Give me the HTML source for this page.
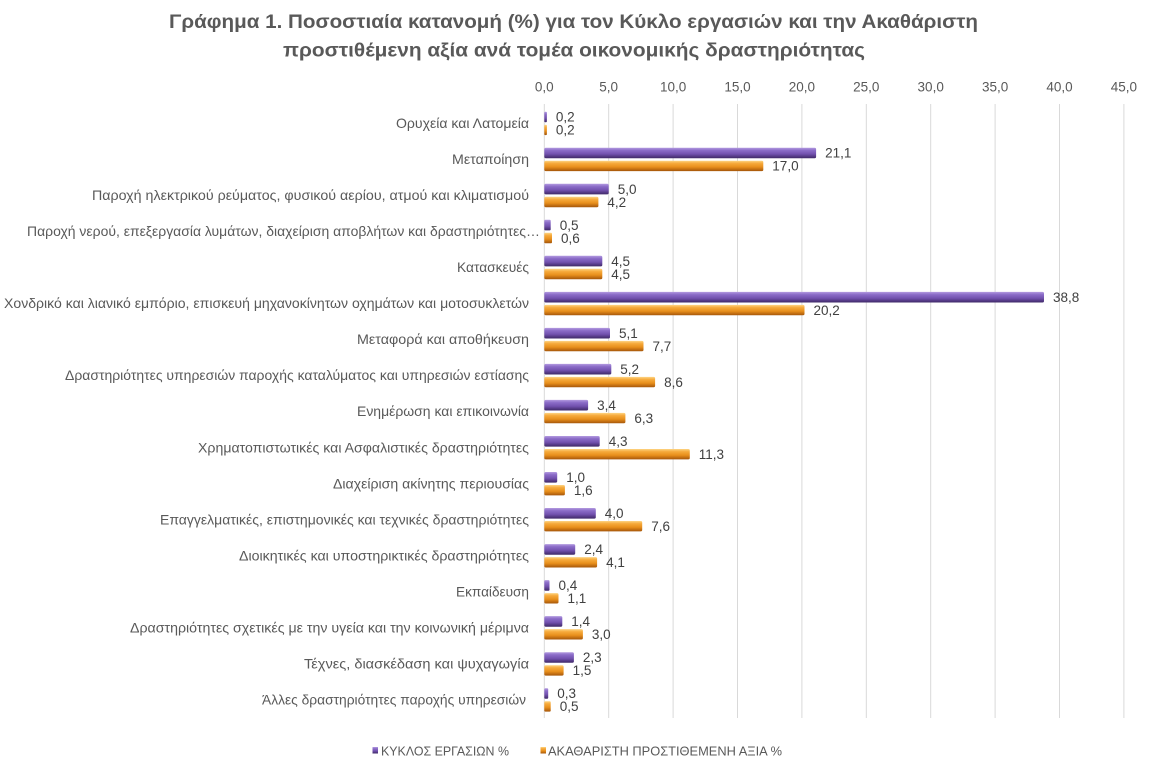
<!DOCTYPE html>
<html>
<head>
<meta charset="utf-8">
<style>
  html, body { margin:0; padding:0; background:#fff; }
  svg { display:block; }
  text { font-family: "Liberation Sans", "DejaVu Sans", sans-serif; }
</style>
</head>
<body>
<svg width="1150" height="767" viewBox="0 0 1150 767" xmlns="http://www.w3.org/2000/svg">
  <defs>
    <linearGradient id="gp" x1="0" y1="0" x2="0" y2="1">
      <stop offset="0" stop-color="#b39be0"/>
      <stop offset="0.25" stop-color="#8b6cc8"/>
      <stop offset="0.6" stop-color="#7251ae"/>
      <stop offset="1" stop-color="#3e2866"/>
    </linearGradient>
    <linearGradient id="go" x1="0" y1="0" x2="0" y2="1">
      <stop offset="0" stop-color="#fdd584"/>
      <stop offset="0.25" stop-color="#f6aa3c"/>
      <stop offset="0.6" stop-color="#e88f1c"/>
      <stop offset="1" stop-color="#a5560a"/>
    </linearGradient>
  </defs>
  <rect width="1150" height="767" fill="#fff"/>

  <!-- Title -->
  <g fill="#595959" font-weight="bold" font-size="19">
    <text x="169" y="28" textLength="809" lengthAdjust="spacingAndGlyphs">Γράφημα 1. Ποσοστιαία κατανομή (%) για τον Κύκλο εργασιών και την Ακαθάριστη</text>
    <text x="283" y="56.5" textLength="582" lengthAdjust="spacingAndGlyphs">προστιθέμενη αξία ανά τομέα οικονομικής δραστηριότητας</text>
  </g>

  <!-- Gridlines -->
  <g stroke="#d9d9d9" stroke-width="1">
    <line x1="544.3" y1="104" x2="544.3" y2="718"/>
    <line x1="608.7" y1="104" x2="608.7" y2="718"/>
    <line x1="673.1" y1="104" x2="673.1" y2="718"/>
    <line x1="737.5" y1="104" x2="737.5" y2="718"/>
    <line x1="801.9" y1="104" x2="801.9" y2="718"/>
    <line x1="866.3" y1="104" x2="866.3" y2="718"/>
    <line x1="930.7" y1="104" x2="930.7" y2="718"/>
    <line x1="995.1" y1="104" x2="995.1" y2="718"/>
    <line x1="1059.5" y1="104" x2="1059.5" y2="718"/>
    <line x1="1123.9" y1="104" x2="1123.9" y2="718"/>
  </g>

  <!-- Tick labels -->
  <g fill="#595959" font-size="13.5" text-anchor="middle">
    <text x="544.3" y="91.5">0,0</text>
    <text x="608.7" y="91.5">5,0</text>
    <text x="673.1" y="91.5">10,0</text>
    <text x="737.5" y="91.5">15,0</text>
    <text x="801.9" y="91.5">20,0</text>
    <text x="866.3" y="91.5">25,0</text>
    <text x="930.7" y="91.5">30,0</text>
    <text x="995.1" y="91.5">35,0</text>
    <text x="1059.5" y="91.5">40,0</text>
    <text x="1123.9" y="91.5">45,0</text>
  </g>

  <!-- Category labels -->
  <g fill="#595959" font-size="14" text-anchor="end">
    <text x="529" y="128" textLength="133" lengthAdjust="spacingAndGlyphs">Ορυχεία και Λατομεία</text>
    <text x="529" y="164" textLength="77" lengthAdjust="spacingAndGlyphs">Μεταποίηση</text>
    <text x="529" y="200.1" textLength="437" lengthAdjust="spacingAndGlyphs">Παροχή ηλεκτρικού ρεύματος, φυσικού αερίου, ατμού και κλιματισμού</text>
    <text x="540" y="236.1" textLength="513" lengthAdjust="spacingAndGlyphs">Παροχή νερού, επεξεργασία λυμάτων, διαχείριση αποβλήτων και δραστηριότητες…</text>
    <text x="529" y="272.1" textLength="72" lengthAdjust="spacingAndGlyphs">Κατασκευές</text>
    <text x="529" y="308.2" textLength="525" lengthAdjust="spacingAndGlyphs">Χονδρικό και λιανικό εμπόριο, επισκευή μηχανοκίνητων οχημάτων και μοτοσυκλετών</text>
    <text x="529" y="344.2" textLength="172" lengthAdjust="spacingAndGlyphs">Μεταφορά και αποθήκευση</text>
    <text x="529" y="380.2" textLength="464" lengthAdjust="spacingAndGlyphs">Δραστηριότητες υπηρεσιών παροχής καταλύματος και υπηρεσιών εστίασης</text>
    <text x="529" y="416.2" textLength="172" lengthAdjust="spacingAndGlyphs">Ενημέρωση και επικοινωνία</text>
    <text x="529" y="452.3" textLength="331" lengthAdjust="spacingAndGlyphs">Χρηματοπιστωτικές και Ασφαλιστικές δραστηριότητες</text>
    <text x="529" y="488.3" textLength="196" lengthAdjust="spacingAndGlyphs">Διαχείριση ακίνητης περιουσίας</text>
    <text x="529" y="524.3" textLength="369" lengthAdjust="spacingAndGlyphs">Επαγγελματικές, επιστημονικές και τεχνικές δραστηριότητες</text>
    <text x="529" y="560.4" textLength="290" lengthAdjust="spacingAndGlyphs">Διοικητικές και υποστηρικτικές δραστηριότητες</text>
    <text x="529" y="596.4" textLength="73" lengthAdjust="spacingAndGlyphs">Εκπαίδευση</text>
    <text x="529" y="632.4" textLength="399" lengthAdjust="spacingAndGlyphs">Δραστηριότητες σχετικές με την υγεία και την κοινωνική μέριμνα</text>
    <text x="529" y="668.5" textLength="225" lengthAdjust="spacingAndGlyphs">Τέχνες, διασκέδαση και ψυχαγωγία</text>
    <text x="526" y="704.5" textLength="264" lengthAdjust="spacingAndGlyphs">Άλλες δραστηριότητες παροχής υπηρεσιών</text>
  </g>

  <!-- Purple bars (Κύκλος εργασιών) : y = c-11.8 -->
  <g fill="url(#gp)">
    <rect x="544.3" y="111.7" width="2.6" height="10.6" rx="1"/>
    <rect x="544.3" y="147.7" width="271.8" height="10.6" rx="1.5"/>
    <rect x="544.3" y="183.8" width="64.4" height="10.6" rx="1.5"/>
    <rect x="544.3" y="219.8" width="6.4" height="10.6" rx="1"/>
    <rect x="544.3" y="255.8" width="58.0" height="10.6" rx="1.5"/>
    <rect x="544.3" y="291.9" width="499.7" height="10.6" rx="1.5"/>
    <rect x="544.3" y="327.9" width="65.7" height="10.6" rx="1.5"/>
    <rect x="544.3" y="363.9" width="67.0" height="10.6" rx="1.5"/>
    <rect x="544.3" y="399.9" width="43.8" height="10.6" rx="1.5"/>
    <rect x="544.3" y="436.0" width="55.4" height="10.6" rx="1.5"/>
    <rect x="544.3" y="472.0" width="12.9" height="10.6" rx="1.5"/>
    <rect x="544.3" y="508.0" width="51.5" height="10.6" rx="1.5"/>
    <rect x="544.3" y="544.1" width="30.9" height="10.6" rx="1.5"/>
    <rect x="544.3" y="580.1" width="5.2" height="10.6" rx="1"/>
    <rect x="544.3" y="616.1" width="18.0" height="10.6" rx="1.5"/>
    <rect x="544.3" y="652.2" width="29.6" height="10.6" rx="1.5"/>
    <rect x="544.3" y="688.2" width="3.9" height="10.6" rx="1"/>
  </g>

  <!-- Orange bars (ΑΠΑ) : y = c+1.2 -->
  <g fill="url(#go)">
    <rect x="544.3" y="124.7" width="2.6" height="10.4" rx="1"/>
    <rect x="544.3" y="160.7" width="219.0" height="10.4" rx="1.5"/>
    <rect x="544.3" y="196.8" width="54.1" height="10.4" rx="1.5"/>
    <rect x="544.3" y="232.8" width="7.7" height="10.4" rx="1"/>
    <rect x="544.3" y="268.8" width="58.0" height="10.4" rx="1.5"/>
    <rect x="544.3" y="304.9" width="260.2" height="10.4" rx="1.5"/>
    <rect x="544.3" y="340.9" width="99.2" height="10.4" rx="1.5"/>
    <rect x="544.3" y="376.9" width="110.8" height="10.4" rx="1.5"/>
    <rect x="544.3" y="412.9" width="81.1" height="10.4" rx="1.5"/>
    <rect x="544.3" y="449.0" width="145.5" height="10.4" rx="1.5"/>
    <rect x="544.3" y="485.0" width="20.6" height="10.4" rx="1.5"/>
    <rect x="544.3" y="521.0" width="97.9" height="10.4" rx="1.5"/>
    <rect x="544.3" y="557.1" width="52.8" height="10.4" rx="1.5"/>
    <rect x="544.3" y="593.1" width="14.2" height="10.4" rx="1.5"/>
    <rect x="544.3" y="629.1" width="38.6" height="10.4" rx="1.5"/>
    <rect x="544.3" y="665.2" width="19.3" height="10.4" rx="1.5"/>
    <rect x="544.3" y="701.2" width="6.4" height="10.4" rx="1"/>
  </g>

  <!-- Purple data labels: baseline c-1.8 -->
  <g fill="#404040" font-size="13.5">
    <text x="555.9" y="121.7">0,2</text>
    <text x="825.1" y="157.7">21,1</text>
    <text x="617.7" y="193.8">5,0</text>
    <text x="559.7" y="229.8">0,5</text>
    <text x="611.3" y="265.8">4,5</text>
    <text x="1053.0" y="301.9">38,8</text>
    <text x="619.0" y="337.9">5,1</text>
    <text x="620.3" y="373.9">5,2</text>
    <text x="597.1" y="409.9">3,4</text>
    <text x="608.7" y="446.0">4,3</text>
    <text x="566.2" y="482.0">1,0</text>
    <text x="604.8" y="518.0">4,0</text>
    <text x="584.2" y="554.1">2,4</text>
    <text x="558.5" y="590.1">0,4</text>
    <text x="571.3" y="626.1">1,4</text>
    <text x="582.9" y="662.2">2,3</text>
    <text x="557.2" y="698.2">0,3</text>
  </g>

  <!-- Orange data labels: baseline c+11.2 -->
  <g fill="#404040" font-size="13.5">
    <text x="555.9" y="134.7">0,2</text>
    <text x="772.3" y="170.7">17,0</text>
    <text x="607.4" y="206.8">4,2</text>
    <text x="561.0" y="242.8">0,6</text>
    <text x="611.3" y="278.8">4,5</text>
    <text x="813.5" y="314.9">20,2</text>
    <text x="652.5" y="350.9">7,7</text>
    <text x="664.1" y="386.9">8,6</text>
    <text x="634.4" y="422.9">6,3</text>
    <text x="698.8" y="459.0">11,3</text>
    <text x="573.9" y="495.0">1,6</text>
    <text x="651.2" y="531.0">7,6</text>
    <text x="606.1" y="567.1">4,1</text>
    <text x="567.5" y="603.1">1,1</text>
    <text x="591.9" y="639.1">3,0</text>
    <text x="572.6" y="675.2">1,5</text>
    <text x="559.7" y="711.2">0,5</text>
  </g>

  <!-- Legend -->
  <rect x="372.5" y="747" width="5.5" height="6.5" fill="url(#gp)"/>
  <text x="381" y="755.5" fill="#595959" font-size="13" textLength="128" lengthAdjust="spacingAndGlyphs">ΚΥΚΛΟΣ ΕΡΓΑΣΙΩΝ %</text>
  <rect x="540.5" y="747" width="5.5" height="6.5" fill="url(#go)"/>
  <text x="548" y="755.5" fill="#595959" font-size="13" textLength="234" lengthAdjust="spacingAndGlyphs">ΑΚΑΘΑΡΙΣΤΗ ΠΡΟΣΤΙΘΕΜΕΝΗ ΑΞΙΑ %</text>
</svg>
</body>
</html>
